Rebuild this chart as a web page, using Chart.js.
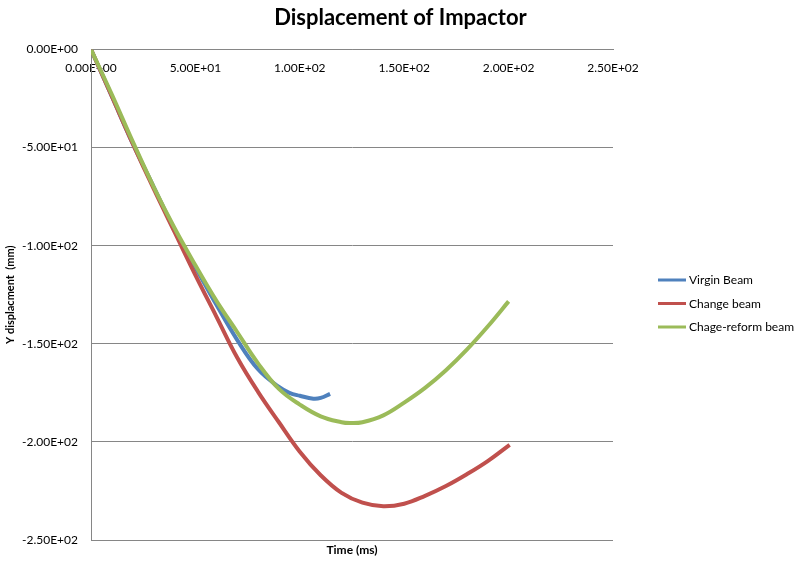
<!DOCTYPE html>
<html>
<head>
<meta charset="utf-8">
<script src="https://cdn.jsdelivr.net/npm/chart.js@4/dist/chart.umd.min.js"></script>
<style>
  html, body { margin: 0; padding: 0; background: #ffffff; }
  #wrap { width: 801px; height: 562px; position: relative; }
</style>
</head>
<body>
<div id="wrap"><canvas id="c" width="801" height="562"></canvas></div>
<script>
// ---- Data ----
const seriesNames = ["Virgin Beam", "Change beam", "Chage-reform beam"];

const virginTime = [0, 10, 20, 30, 40, 50, 60, 70, 80, 90, 95, 100, 106.5, 110, 114.5];
const virginDisp = [0, -24, -48, -70, -92, -111, -130, -148, -163, -172, -175, -176.5, -178, -177.6, -175.5];

const changeTime = [0, 10, 20, 30, 40, 50, 60, 70, 80, 90, 100, 110, 120, 130, 140, 150, 160, 170, 180, 190, 200.5];
const changeDisp = [0, -24, -48, -71, -93, -115, -136, -157, -174.5, -190, -205, -217, -226, -231, -232.8, -231.5, -227.5, -222.5, -216.5, -209.8, -201.5];

const reformTime = [0, 10, 20, 30, 40, 50, 60, 70, 80, 90, 100, 110, 120, 124, 130, 140, 150, 160, 170, 180, 190, 200];
const reformDisp = [0, -23, -47, -70, -91, -110, -128, -144, -160, -173, -181, -187, -190, -190.4, -190, -186.5, -180, -172.5, -163.5, -153, -141.2, -128.4];

const xTicks = [0, 50, 100, 150, 200, 250];
const yTicks = [0, -50, -100, -150, -200, -250];

const colors = ["#4F81BD", "#C0504D", "#9BBB59"];

function toPoints(xs, ys) { return xs.map((x, i) => ({ x: x, y: ys[i] })); }

function sci(v) {
  v = Number(v);
  if (Math.abs(v) < 1e-9) return "0.00E+00";
  const s = v.toExponential(2);
  const parts = s.split("e");
  const mant = parts[0];
  let exp = parseInt(parts[1], 10);
  const sign = exp < 0 ? "-" : "+";
  exp = Math.abs(exp);
  return mant + "E" + sign + (exp < 10 ? "0" + exp : "" + exp);
}

const FONT = "Lato, 'Open Sans', 'DejaVu Sans', sans-serif";
const GRID = "#868686";

const legendPlugin = {
  id: "sideLegend",
  afterDraw(chart) {
    const ctx = chart.ctx;
    const ds = chart.data.datasets;
    const x0 = 658, x1 = 686, tx = 689;
    const ys = [280, 303.5, 327];
    ctx.save();
    ctx.font = "12px " + FONT;
    ctx.textBaseline = "middle";
    ctx.textAlign = "left";
    ds.forEach((d, i) => {
      ctx.strokeStyle = d.borderColor;
      ctx.lineWidth = 3;
      ctx.beginPath();
      ctx.moveTo(x0, ys[i]);
      ctx.lineTo(x1, ys[i]);
      ctx.stroke();
      ctx.fillStyle = "#000000";
      ctx.fillText(d.label, tx, ys[i] + 0.5);
    });
    ctx.restore();
  }
};

new Chart(document.getElementById("c"), {
  type: "line",
  data: {
    datasets: [
      { label: seriesNames[0], data: toPoints(virginTime, virginDisp), borderColor: colors[0], backgroundColor: colors[0], order: 2 },
      { label: seriesNames[1], data: toPoints(changeTime, changeDisp), borderColor: colors[1], backgroundColor: colors[1], order: 1 },
      { label: seriesNames[2], data: toPoints(reformTime, reformDisp), borderColor: colors[2], backgroundColor: colors[2], order: 0 }
    ]
  },
  options: {
    responsive: false,
    animation: false,
    devicePixelRatio: 1,
    elements: {
      line: { borderWidth: 4, tension: 0.4, fill: false },
      point: { radius: 0, hoverRadius: 0 }
    },
    layout: { padding: 0 },
    plugins: {
      legend: { display: false },
      tooltip: { enabled: false },
      title: {
        display: true,
        text: "Displacement of Impactor",
        color: "#000000",
        font: { family: FONT, size: 22, weight: "bold" },
        padding: { top: 5, bottom: 18 },
        align: "center"
      }
    },
    scales: {
      x: {
        type: "linear",
        position: "top",
        min: 0, max: 250,
        afterBuildTicks(scale) { scale.ticks = xTicks.map(v => ({ value: v })); },
        afterFit(scale) { scale.height = 0; },
        ticks: {
          callback: (v) => sci(v),
          mirror: true,
          padding: 12,
          color: "#000000",
          font: { family: FONT, size: 12 },
          maxRotation: 0, autoSkip: false
        },
        grid: { display: false, drawTicks: false },
        border: { display: true, color: GRID, width: 1 }
      },
      x2: {
        type: "linear",
        position: "bottom",
        min: 0, max: 250,
        afterFit(scale) { scale.height = 22; },
        ticks: { display: false },
        grid: { display: false, drawTicks: false },
        border: { display: false },
        title: {
          display: true,
          text: "Time (ms)",
          color: "#000000",
          font: { family: FONT, size: 12, weight: "bold" },
          padding: { top: 0, bottom: 5 }
        }
      },
      y: {
        type: "linear",
        position: "left",
        min: -250, max: 0,
        afterBuildTicks(scale) { scale.ticks = yTicks.slice().reverse().map(v => ({ value: v })); },
        afterFit(scale) { scale.width = 91; },
        ticks: {
          callback: (v) => sci(v),
          padding: 13,
          color: "#000000",
          font: { family: FONT, size: 12 }
        },
        grid: { display: true, color: GRID, lineWidth: 1, drawTicks: false },
        border: { display: true, color: GRID, width: 1 },
        title: {
          display: true,
          text: "Y displacment  (mm)",
          color: "#000000",
          font: { family: FONT, size: 11, weight: "bold" },
          padding: { top: 4, bottom: 0 }
        }
      },
      y2: {
        type: "linear",
        position: "right",
        min: -250, max: 0,
        afterFit(scale) { scale.width = 188; },
        ticks: { display: false },
        grid: { display: false, drawTicks: false },
        border: { display: false }
      }
    }
  },
  plugins: [legendPlugin]
});
</script>
</body>
</html>
